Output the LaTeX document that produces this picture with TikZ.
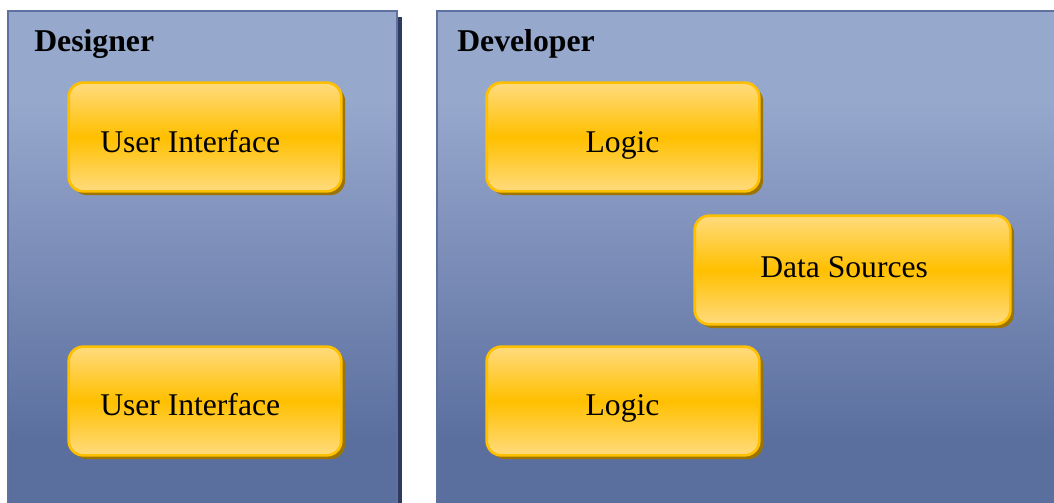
\documentclass[tikz,border=0pt]{standalone}
\usepackage{fontspec}
\setmainfont{Liberation Serif}
\usetikzlibrary{shadows}
\definecolor{ptop}{HTML}{97A8CD}
\definecolor{pbot}{HTML}{5B6F9F}
\definecolor{pborder}{HTML}{5E71A1}
\definecolor{pshadow}{HTML}{2E3B5F}
\definecolor{gold}{HTML}{FFC000}
\definecolor{goldlight}{HTML}{FFDB7E}
\definecolor{goldshadow}{HTML}{9C7400}
\tikzset{
  box/.style={draw=gold, line width=2pt, rounded corners=11pt,
    top color=goldlight, bottom color=goldlight, middle color=gold,
    minimum width=204.5pt, minimum height=81.5pt, inner sep=0pt,
    drop shadow={shadow xshift=2.8pt, shadow yshift=-2.8pt, fill=goldshadow, opacity=1}},
  lbl/.style={font=\fontsize{23.7pt}{28pt}\selectfont, inner sep=0pt, text=black},
  ttl/.style={font=\fontsize{23.8pt}{28pt}\selectfont\bfseries, inner sep=0pt, text=black},
}
\begin{document}
\begin{tikzpicture}[x=0.75pt,y=-0.75pt]
\clip (0,0) rectangle (1054,503);
\fill[white] (0,0) rectangle (1054,503);
% designer panel shadow
\fill[pshadow] (396,17) rectangle (402,520);
% designer panel fill
\fill[ptop] (8,11) rectangle (397,100);
\shade[top color=ptop, bottom color=pbot] (8,99.5) rectangle (397,440.5);
\fill[pbot] (8,440) rectangle (397,520);
\draw[pborder, line width=1.6pt] (8,520) -- (8,11) -- (397,11) -- (397,520);
% developer panel fill
\fill[ptop] (437,11) rectangle (1060,100);
\shade[top color=ptop, bottom color=pbot] (437,99.5) rectangle (1060,440.5);
\fill[pbot] (437,440) rectangle (1060,520);
\draw[pborder, line width=1.6pt] (437,520) -- (437,11) -- (1060,11);
% titles
\node[ttl, anchor=base west] (designer) at (34,52) {Designer};
\node[ttl, anchor=base west] (developer) at (457,52) {Developer};
% boxes
\node[box] (ui1) at (205,137) {};
\node[box] (ui2) at (205,401) {};
\node[box] (logic1) at (623,137) {};
\node[box] (logic2) at (623,401) {};
\node[box, minimum width=236.75pt] (ds) at (852.5,270) {};
% labels
\node[lbl, anchor=base west] (tui1) at (100,152) {User Interface};
\node[lbl, anchor=base west] (tui2) at (100,415) {User Interface};
\node[lbl, anchor=base] (tlogic1) at (622.5,152) {Logic};
\node[lbl, anchor=base] (tlogic2) at (622.5,415) {Logic};
\node[lbl, anchor=base west] (tds) at (760,277) {Data Sources};
\end{tikzpicture}
\end{document}
